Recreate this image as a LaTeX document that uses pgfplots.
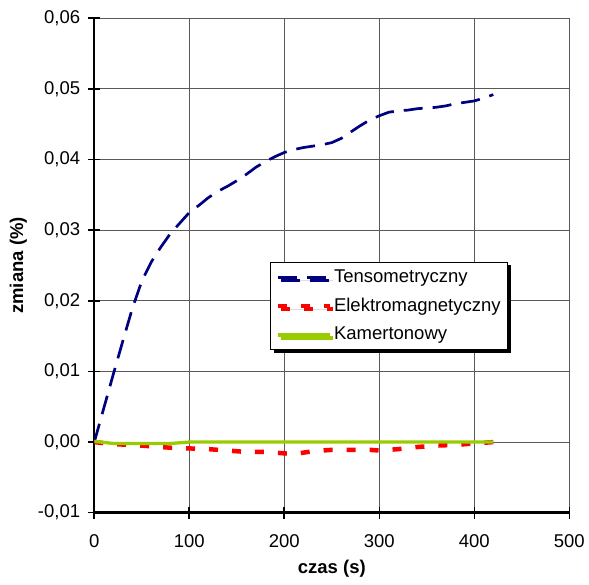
\documentclass[border=0pt]{standalone}
\usepackage{fontspec}
\setmainfont{Liberation Sans}
\usepackage{pgfplots}
\pgfplotsset{compat=1.18}
\usetikzlibrary{shadows}

\definecolor{tenso}{RGB}{0,0,128}
\definecolor{elektro}{RGB}{255,0,0}
\definecolor{kamer}{RGB}{153,204,0}

\newcommand{\chartfont}{\fontsize{18.5pt}{22pt}\selectfont}

\begin{document}
\chartfont
\begin{tikzpicture}
\begin{axis}[
  name=ax,
  width=475pt, height=494.4pt, scale only axis,
  xmin=0, xmax=500, ymin=-0.01, ymax=0.06,
  axis lines*=left,
  axis line style={line width=2.4pt, black},
  xtick={0,100,200,300,400,500},
  ytick={-0.01,0,0.01,0.02,0.03,0.04,0.05,0.06},
  yticklabels={{-0,01},{0,00},{0,01},{0,02},{0,03},{0,04},{0,05},{0,06}},
  scaled y ticks=false,
  /pgf/number format/assume math mode=true,
  tick align=center, major tick length=12pt,
  tick style={line width=1.6pt, black},
  grid=major,
  major grid style={line width=1pt, color=gray!70!black},
  ticklabel style={font=\chartfont, inner sep=0pt},
  xticklabel style={anchor=center, yshift=-22pt},
  yticklabel style={anchor=east, xshift=-8pt},
  xlabel={\bfseries czas (s)},
  ylabel={\bfseries zmiana (\%)},
  xlabel style={font=\chartfont, at={(axis description cs:0.5,-0.114)}, anchor=center},
  ylabel style={font=\chartfont, at={(axis description cs:-0.16,0.5)}, anchor=center},
  legend style={at={(axis cs:185,0.0255)}, anchor=north west,
    draw=black, line width=1pt, fill=white, font=\chartfont,
    drop shadow={shadow xshift=3pt, shadow yshift=-3pt, fill=black, opacity=1},
    inner xsep=5pt, inner ysep=5pt, row sep=9pt},
  legend cell align=left,
  legend image code/.code={\draw[#1] (0pt,0pt) -- (52pt,0pt);},
]
\addplot[tenso, line width=2.7pt, dash pattern=on 19pt off 10pt] coordinates {
  (0,0) (10,0.0048) (20,0.0096) (30,0.0143) (40,0.0189) (50,0.0228)
  (60,0.0255) (70,0.0276) (80,0.0295) (90,0.0310) (100,0.0325)
  (110,0.0335) (120,0.0346) (130,0.0355) (140,0.0362) (150,0.0370)
  (160,0.0379) (170,0.0389) (180,0.0397) (190,0.0404) (200,0.0410)
  (210,0.0414) (220,0.0417) (230,0.0419) (240,0.0421) (250,0.0424)
  (260,0.0430) (270,0.0439) (280,0.0448) (290,0.0456) (300,0.0462)
  (310,0.0467) (320,0.0469) (330,0.0470) (340,0.0472) (350,0.0473)
  (360,0.0474) (370,0.0476) (380,0.0479) (390,0.0481) (400,0.0483)
  (410,0.0487) (420,0.0492)
};
\addlegendentry{Tensometryczny}
\addplot[elektro, line width=4.5pt, dash pattern=on 9pt off 14pt] coordinates {
  (0,0) (20,-0.0003) (40,-0.0004) (60,-0.0006) (80,-0.0008) (100,-0.0009)
  (120,-0.0010) (140,-0.0012) (160,-0.0014) (180,-0.0014) (200,-0.0016)
  (210,-0.0017) (230,-0.0013) (250,-0.0011) (270,-0.0011) (290,-0.0011)
  (300,-0.0012) (320,-0.0010) (340,-0.0007) (360,-0.0005) (380,-0.0004)
  (400,-0.0002) (420,0)
};
\addlegendentry{Elektromagnetyczny}
\addplot[kamer, line width=3.3pt] coordinates {
  (0,0.0001) (20,-0.0002) (40,-0.0002) (60,-0.0002) (80,-0.0002)
  (100,0) (200,0) (300,0) (420,0)
};
\addlegendentry{Kamertonowy}
\end{axis}
\path ([xshift=-94.3pt,yshift=-72.3pt]ax.south west) rectangle ([xshift=19.7pt,yshift=18.3pt]ax.north east);
\end{tikzpicture}
\end{document}
